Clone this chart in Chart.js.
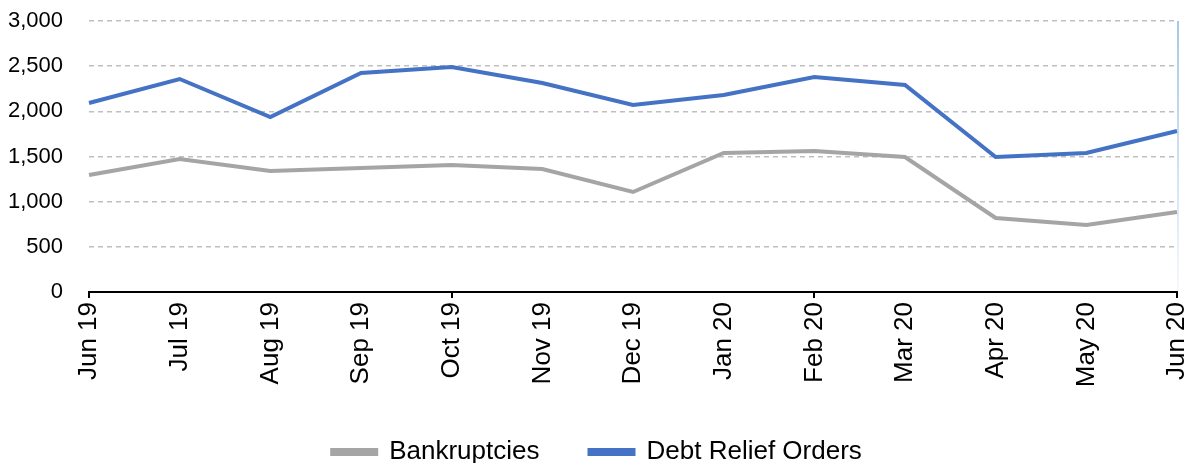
<!DOCTYPE html>
<html>
<head>
<meta charset="utf-8">
<script src="https://cdn.jsdelivr.net/npm/chart.js@4"></script>
<style>
  html, body { margin: 0; padding: 0; background: #fff; }
  #wrap { width: 1194px; height: 463px; }
</style>
</head>
<body>
<div id="wrap"><canvas id="lineChart" width="1194" height="463"></canvas></div>
<script>
// Months shown along the x axis
const months = ['Jun 19', 'Jul 19', 'Aug 19', 'Sep 19', 'Oct 19', 'Nov 19', 'Dec 19',
                'Jan 20', 'Feb 20', 'Mar 20', 'Apr 20', 'May 20', 'Jun 20'];

// Series values
const bankruptcies = [1295, 1472, 1339, 1373, 1406, 1362, 1107, 1539, 1561, 1494, 819, 742, 886];
const debtReliefOrders = [2092, 2358, 1937, 2424, 2491, 2314, 2070, 2181, 2380, 2292, 1494, 1539, 1782];

const yMin = 0;
const yMax = 3000;
const yStep = 500;

Chart.defaults.font.family = '"Liberation Sans", Arial, sans-serif';
Chart.defaults.color = '#000';

// faint blue edge on the right side of the plot
const rightEdge = {
    id: 'rightEdge',
    afterDatasetsDraw(chart) {
        const { ctx, chartArea } = chart;
        const g = ctx.createLinearGradient(0, chartArea.top, 0, chartArea.bottom);
        g.addColorStop(0, 'rgba(155,194,230,0.9)');
        g.addColorStop(1, 'rgba(155,194,230,0.1)');
        ctx.save();
        ctx.strokeStyle = g;
        ctx.lineWidth = 2;
        ctx.beginPath();
        ctx.moveTo(chartArea.right + 1, chartArea.top);
        ctx.lineTo(chartArea.right + 1, chartArea.bottom);
        ctx.stroke();
        ctx.restore();
    }
};

const config = {
    type: 'line',
    data: {
        labels: months,
        datasets: [{
            label: 'Bankruptcies',
            data: bankruptcies,
            borderColor: '#a5a5a5',
            backgroundColor: '#a5a5a5',
            borderWidth: 4,
            pointRadius: 0,
            tension: 0
        }, {
            label: 'Debt Relief Orders',
            data: debtReliefOrders,
            borderColor: '#4472c4',
            backgroundColor: '#4472c4',
            borderWidth: 4,
            pointRadius: 0,
            tension: 0
        }]
    },
    options: {
        responsive: false,
        animation: false,
        layout: { padding: { left: 6, right: 6, top: 0, bottom: -12 } },
        plugins: {
            tooltip: { enabled: false },
            legend: {
                position: 'bottom',
                labels: {
                    boxWidth: 44,
                    boxHeight: 4,
                    padding: 50,
                    font: { size: 26 }
                }
            }
        },
        scales: {
            x: {
                offset: false,
                afterFit: scale => {
                    scale.height = 97;
                    scale.paddingRight = 17;
                },
                border: { display: true, color: '#000', width: 2 },
                grid: {
                    drawOnChartArea: false,
                    drawTicks: true,
                    tickLength: 6,
                    lineWidth: 2,
                    color: ctx => (ctx.index % 4 === 0 ? '#000' : 'rgba(0,0,0,0)')
                },
                ticks: {
                    autoSkip: false,
                    minRotation: 90,
                    maxRotation: 90,
                    padding: 4,
                    font: { size: 26 }
                }
            },
            y: {
                min: yMin,
                max: yMax,
                afterFit: scale => {
                    scale.width = 83;
                    scale.paddingTop = 21;
                },
                border: { display: false, dash: [5, 4] },
                grid: {
                    color: ctx => (ctx.tick.value === 0 ? 'rgba(0,0,0,0)' : '#bfbfbf'),
                    lineWidth: 1.5,
                    drawTicks: false
                },
                ticks: {
                    stepSize: yStep,
                    padding: 26,
                    font: { size: 22 },
                    callback: v => v.toLocaleString('en-US')
                }
            }
        }
    },
    plugins: [rightEdge]
};

new Chart(document.getElementById('lineChart'), config);
</script>
</body>
</html>
